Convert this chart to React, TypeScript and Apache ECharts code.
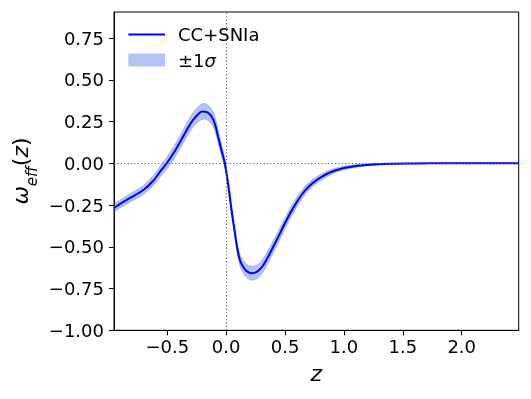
import React, { useEffect, useRef } from "react";
import * as echarts from "echarts";

// redshift samples
const zValues = [
  -0.952, -0.9, -0.82, -0.7, -0.62, -0.55, -0.5, -0.43, -0.365, -0.3, -0.25, -0.2,
  -0.16, -0.11, -0.07, -0.04, -0.01, 0.02, 0.045, 0.075, 0.1, 0.12, 0.14, 0.16, 0.18, 0.22,
  0.26, 0.3, 0.34, 0.4, 0.46, 0.52, 0.58, 0.64, 0.7, 0.78, 0.88, 1.0, 1.12, 1.25,
  1.4, 1.6, 1.9, 2.2, 2.484,
];
// best-fit w_eff(z)
const wEff = [
  -0.268, -0.243, -0.209, -0.158, -0.105, -0.04, 0.005, 0.08, 0.16, 0.24, 0.285, 0.31,
  0.305, 0.263, 0.165, 0.08, -0.005, -0.14, -0.275, -0.42, -0.53, -0.585, -0.614, -0.635, -0.648, -0.658,
  -0.65, -0.625, -0.58, -0.5, -0.415, -0.33, -0.255, -0.19, -0.14, -0.095, -0.055, -0.028, -0.014, -0.007,
  -0.003, -0.001, 0, 0, 0,
];
// 1-sigma half-width
const sigma = [
  0.022, 0.023, 0.025, 0.027, 0.03, 0.033, 0.036, 0.038, 0.04, 0.043, 0.045, 0.047,
  0.046, 0.044, 0.04, 0.035, 0.03, 0.028, 0.028, 0.03, 0.033, 0.035, 0.037, 0.039, 0.04, 0.042,
  0.041, 0.04, 0.038, 0.036, 0.034, 0.032, 0.03, 0.027, 0.024, 0.02, 0.015, 0.011, 0.008, 0.005,
  0.003, 0.002, 0.001, 0.0005, 0,
];
const xTicks = [-0.5, 0, 0.5, 1.0, 1.5, 2.0];
const yTicks = [-1.0, -0.75, -0.5, -0.25, 0, 0.25, 0.5, 0.75];
const lineName = "CC+SNIa";
const bandName = "±1σ";

const FONT = "DejaVu Sans";
const BAND = "rgba(65,105,225,0.4)";

const fmt = (v: number, d: number) =>
  (v < -1e-9 ? "\u2212" : "") + Math.abs(v).toFixed(d);

export default function App() {
  const ref = useRef<HTMLDivElement>(null);
  useEffect(() => {
    if (!ref.current) return;
    const chart = echarts.init(ref.current, undefined, { renderer: "svg" });
    const bandData = zValues.map((z, i) => [z, wEff[i] - sigma[i], wEff[i] + sigma[i]]);
    const main = zValues.map((z, i) => [z, wEff[i]]);
    chart.setOption({
      animation: false,
      grid: {
        left: 114,
        right: 12.3,
        top: 12,
        bottom: 68.7,
        show: true,
        borderColor: "#000",
        borderWidth: 1,
        containLabel: false,
        outerBoundsMode: "none",
      },
      xAxis: {
        type: "value",
        min: -0.952,
        max: 2.484,
        splitLine: { show: false },
        axisLine: { show: true, onZero: false, lineStyle: { color: "#000", width: 1 } },
        axisTick: { show: true, length: 5, customValues: xTicks, lineStyle: { color: "#000" } },
        axisLabel: {
          customValues: xTicks,
          formatter: (v: number) => fmt(v, 1),
          fontFamily: FONT,
          fontSize: 18,
          color: "#000",
          margin: 7,
        },
      },
      yAxis: {
        type: "value",
        min: -1,
        max: 0.906,
        splitLine: { show: false },
        axisLine: { show: true, onZero: false, lineStyle: { color: "#000", width: 1 } },
        axisTick: { show: true, length: 5, customValues: yTicks, lineStyle: { color: "#000" } },
        axisLabel: {
          customValues: yTicks,
          formatter: (v: number) => fmt(v, 2),
          fontFamily: FONT,
          fontSize: 18,
          color: "#000",
          margin: 10,
        },
      },
      series: [
        {
          type: "custom",
          name: bandName,
          data: bandData,
          silent: true,
          clip: true,
          encode: { x: 0, y: [1, 2] },
          renderItem: (params: any, api: any) => {
            if (params.dataIndex !== 0) return null;
            const upper = bandData.map((d) => api.coord([d[0], d[2]]));
            const lower = bandData.map((d) => api.coord([d[0], d[1]])).reverse();
            return {
              type: "polygon",
              shape: { points: upper.concat(lower), smooth: 0.4 },
              style: { fill: BAND, stroke: BAND, lineWidth: 0.8 },
            };
          },
          z: 1,
        },
        {
          type: "line",
          name: lineName,
          data: main,
          smooth: 0.45,
          symbol: "none",
          z: 3,
          lineStyle: { color: "#0000ff", width: 2 },
          markLine: {
            silent: true,
            symbol: ["none", "none"],
            label: { show: false },
            lineStyle: { type: [1.2, 2.2], color: "#666", width: 1.1 },
            data: [{ xAxis: 0 }, { yAxis: 0 }],
          },
        },
      ],
      graphic: [
        {
          type: "line",
          shape: { x1: 128.3, y1: 34.5, x2: 165, y2: 34.5 },
          style: { stroke: "#0000ff", lineWidth: 2 },
        },
        {
          type: "text",
          x: 178,
          y: 34.5,
          style: {
            text: lineName,
            fontFamily: FONT,
            fontSize: 18,
            fill: "#000",
            textVerticalAlign: "middle",
          },
        },
        {
          type: "rect",
          shape: { x: 128.3, y: 53.5, width: 36.7, height: 13 },
          style: { fill: BAND },
        },
        {
          type: "text",
          x: 178,
          y: 60,
          style: {
            text: "{a|±1}{b|σ}",
            fontFamily: FONT,
            fontSize: 18,
            fill: "#000",
            textVerticalAlign: "middle",
            rich: {
              a: { fontFamily: FONT, fontSize: 18, fill: "#000" },
              b: { fontFamily: FONT, fontSize: 18, fontStyle: "italic", fill: "#000" },
            },
          },
        },
        {
          type: "text",
          x: 316.3,
          y: 373,
          style: {
            text: "z",
            fontFamily: FONT,
            fontSize: 22,
            fontStyle: "italic",
            fill: "#000",
            textAlign: "center",
            textVerticalAlign: "middle",
          },
        },
        {
          type: "text",
          x: 24,
          y: 171,
          rotation: Math.PI / 2,
          style: {
            text: "{w|ω}{s|eff}{p|(}{w|z}{p|)}",
            fontFamily: FONT,
            fontSize: 22,
            fill: "#000",
            textAlign: "center",
            textVerticalAlign: "middle",
            rich: {
              w: { fontFamily: FONT, fontSize: 22, fontStyle: "italic", lineHeight: 30, verticalAlign: "top", fill: "#000" },
              p: { fontFamily: FONT, fontSize: 22, lineHeight: 30, verticalAlign: "top", fill: "#000" },
              s: { fontFamily: FONT, fontSize: 15, fontStyle: "italic", lineHeight: 16, verticalAlign: "bottom", fill: "#000" },
            },
          },
        },
      ],
    });
    return () => chart.dispose();
  }, []);
  return (
    <div
      ref={ref}
      style={{ position: "fixed", left: 0, top: 0, width: 531, height: 399 }}
    />
  );
}
